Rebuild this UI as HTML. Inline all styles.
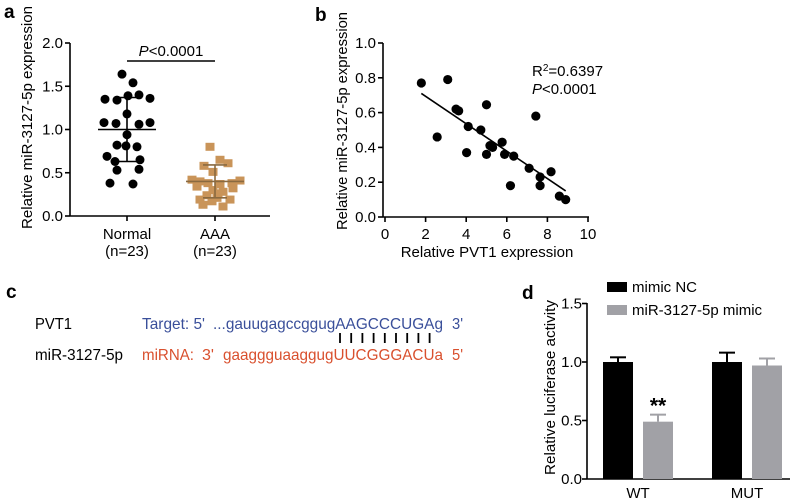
<!DOCTYPE html>
<html><head><meta charset="utf-8"><style>
body{margin:0;background:#fff}
svg{display:block;font-family:"Liberation Sans",Arial,sans-serif}
</style></head><body>
<svg id="s" width="800" height="503" viewBox="0 0 800 503">
<text x="4" y="18" font-size="19" font-weight="bold">a</text>
<text x="315" y="21" font-size="19" font-weight="bold">b</text>
<text x="6" y="298" font-size="19" font-weight="bold">c</text>
<text x="522" y="299" font-size="19" font-weight="bold">d</text>
<g id="pa"></g>
<g id="pb"></g>
<g id="pd"></g>
<g font-size="16">
<text x="35" y="329" textLength="37" lengthAdjust="spacingAndGlyphs">PVT1</text>
<text x="35" y="360" textLength="88" lengthAdjust="spacingAndGlyphs">miR-3127-5p</text>
<g fill="#3a4f9a">
<text x="142" y="329" textLength="63" lengthAdjust="spacingAndGlyphs">Target: 5'</text>
<text x="213" y="329" textLength="230" lengthAdjust="spacingAndGlyphs">...gauugagccggugAAGCCCUGAg</text>
<text x="452" y="329" textLength="11" lengthAdjust="spacingAndGlyphs">3'</text>
</g>
<g fill="#d9502e">
<text x="142" y="360" textLength="52" lengthAdjust="spacingAndGlyphs">miRNA:</text>
<text x="202" y="360" textLength="12" lengthAdjust="spacingAndGlyphs">3'</text>
<text x="223" y="360" textLength="220" lengthAdjust="spacingAndGlyphs">gaaggguaaggugUUCGGGACUa</text>
<text x="452" y="360" textLength="11" lengthAdjust="spacingAndGlyphs">5'</text>
</g>
<g id="pairs" stroke="#000" stroke-width="1.8"></g>
</g>
</svg>
<script>
// Panel a data
const aNormal=[1.64,1.54,1.35,1.34,1.39,1.40,1.36,1.18,1.08,1.07,1.06,1.08,0.94,0.81,0.82,0.80,0.69,0.63,0.65,0.53,0.54,0.38,0.37];
const aNormalJitter=[-5,6,-22,-10,1,12,23,0,-23,-11,12,23,0,-1,-10,10,-20,-12,13,-10,12,-17,6];
const aAAA=[0.80,0.65,0.61,0.58,0.51,0.42,0.40,0.41,0.38,0.37,0.38,0.34,0.30,0.28,0.24,0.26,0.19,0.19,0.17,0.11,0.13,0.21,0.32];
const aAAAJitter=[-5,5,13,-11,-2,-23,-15,25,-7,5,17,-18,-2,8,-8,3,-15,15,-3,8,-12,2,18];
const aTicks=[0,0.5,1.0,1.5,2.0];
const aCats=["Normal","AAA"];
const aMean=[1.0,0.40];const aSD=[0.37,0.19];
// Panel b data
const bX=[1.79,3.09,2.57,3.5,3.63,4.1,4.02,4.72,5.0,5.0,5.17,5.3,5.77,5.89,6.34,6.18,7.43,7.1,7.64,7.64,8.18,8.59,8.9];
const bY=[0.77,0.79,0.46,0.62,0.61,0.52,0.37,0.50,0.645,0.36,0.41,0.40,0.43,0.36,0.35,0.18,0.58,0.28,0.23,0.18,0.26,0.12,0.10];
const bFit=[[1.79,0.71],[8.9,0.15]];
const bXTicks=[0,2,4,6,8,10];const bYTicks=[0,0.2,0.4,0.6,0.8,1.0];
// Panel d data
const dGroups=["WT","MUT"];
const dNC=[1.0,1.0];const dNCErr=[0.04,0.08];
const dMimic=[0.49,0.97];const dMimicErr=[0.06,0.06];
const dTicks=[0,0.5,1.0,1.5];

const NS="http://www.w3.org/2000/svg";
const FS=15;
function mk(p,t,a,txt){const e=document.createElementNS(NS,t);for(const k in a)e.setAttribute(k,a[k]);if(txt!==undefined)e.textContent=txt;p.appendChild(e);return e;}
const S=1.6;
// Panel a
const pa=document.getElementById('pa');
const ay=v=>216-v*86.5;const ax=i=>127+i*88;
mk(pa,'line',{x1:70,y1:43,x2:70,y2:216,stroke:'#000','stroke-width':S});
mk(pa,'line',{x1:70,y1:216,x2:270,y2:216,stroke:'#000','stroke-width':S});
aTicks.forEach(t=>{mk(pa,'line',{x1:65,y1:ay(t),x2:70,y2:ay(t),stroke:'#000','stroke-width':S});
const l=mk(pa,'text',{x:63,y:ay(t)+5,'font-size':FS,'text-anchor':'end'},t.toFixed(1));

});
aCats.forEach((c,i)=>{mk(pa,'line',{x1:ax(i),y1:216,x2:ax(i),y2:221,stroke:'#000','stroke-width':S});
const l=mk(pa,'text',{x:ax(i),y:239,'font-size':FS,'text-anchor':'middle'},c);


mk(pa,'text',{x:ax(i),y:256,'font-size':FS,'text-anchor':'middle'},'(n=23)');});
const at=mk(pa,'text',{transform:'translate(32,229) rotate(-90)','font-size':FS,textLength:223,lengthAdjust:'spacingAndGlyphs'},'Relative miR-3127-5p expression');


aNormal.forEach((v,i)=>{const c=mk(pa,'circle',{cx:ax(0)+aNormalJitter[i],cy:ay(v),r:4.5,fill:'#000'});

});
aAAA.forEach((v,i)=>{const r=mk(pa,'rect',{x:ax(1)+aAAAJitter[i]-4.5,y:ay(v)-4,width:9,height:8,fill:'#c99459'});

});
[0,1].forEach(i=>{const col=i?'#8a6a40':'#000';
mk(pa,'line',{x1:ax(i)-29,y1:ay(aMean[i]),x2:ax(i)+29,y2:ay(aMean[i]),stroke:col,'stroke-width':S});
mk(pa,'line',{x1:ax(i),y1:ay(aMean[i]-aSD[i]),x2:ax(i),y2:ay(aMean[i]+aSD[i]),stroke:col,'stroke-width':S});
[1,-1].forEach(s=>mk(pa,'line',{x1:ax(i)-12,y1:ay(aMean[i]+s*aSD[i]),x2:ax(i)+12,y2:ay(aMean[i]+s*aSD[i]),stroke:col,'stroke-width':S}));});
mk(pa,'line',{x1:ax(0),y1:61,x2:ax(1),y2:61,stroke:'#000','stroke-width':S});
const pt=mk(pa,'text',{x:171,y:56,'font-size':FS,'text-anchor':'middle'});
pt.innerHTML='<tspan font-style="italic">P</tspan>&lt;0.0001';
// Panel b
const pb=document.getElementById('pb');
const bx=v=>385+v*20.3;const by=v=>217-v*174;
mk(pb,'line',{x1:383,y1:43,x2:383,y2:217,stroke:'#000','stroke-width':S});
mk(pb,'line',{x1:383,y1:217,x2:589,y2:217,stroke:'#000','stroke-width':S});
bYTicks.forEach(t=>{mk(pb,'line',{x1:378,y1:by(t),x2:383,y2:by(t),stroke:'#000','stroke-width':S});
const l=mk(pb,'text',{x:376,y:by(t)+5,'font-size':FS,'text-anchor':'end'},t.toFixed(1));

});
bXTicks.forEach(t=>{mk(pb,'line',{x1:bx(t),y1:217,x2:bx(t),y2:222,stroke:'#000','stroke-width':S});
const l=mk(pb,'text',{x:bx(t),y:239,'font-size':FS,'text-anchor':'middle'},t);

});
const bt=mk(pb,'text',{x:487,y:257,'font-size':FS,'text-anchor':'middle'},'Relative PVT1 expression');


const bt2=mk(pb,'text',{transform:'translate(347,230) rotate(-90)','font-size':FS,textLength:218,lengthAdjust:'spacingAndGlyphs'},'Relative miR-3127-5p expression');


const fl=mk(pb,'line',{x1:bx(bFit[0][0]),y1:by(bFit[0][1]),x2:bx(bFit[1][0]),y2:by(bFit[1][1]),stroke:'#000','stroke-width':1.6});


bX.forEach((x,i)=>{const c=mk(pb,'circle',{cx:bx(x),cy:by(bY[i]),r:4.6,fill:'#000'});

});
const r2=mk(pb,'text',{x:532,y:76,'font-size':FS});r2.innerHTML='R<tspan font-size="10" dy="-5">2</tspan><tspan dy="5">=0.6397</tspan>';
const pp=mk(pb,'text',{x:532,y:94,'font-size':FS});pp.innerHTML='<tspan font-style="italic">P</tspan>&lt;0.0001';
// Panel c pairs
const pg=document.getElementById('pairs');
for(let i=0;i<9;i++){mk(pg,'line',{x1:340+i*11.2,y1:333,x2:340+i*11.2,y2:343});}
// Panel d
const pd=document.getElementById('pd');
const dy=v=>479-v*117;const gx=[638,747];const bw=30;
mk(pd,'line',{x1:587,y1:303,x2:587,y2:479,stroke:'#000','stroke-width':S});
mk(pd,'line',{x1:587,y1:479,x2:790,y2:479,stroke:'#000','stroke-width':S});
dTicks.forEach(t=>{mk(pd,'line',{x1:582,y1:dy(t),x2:587,y2:dy(t),stroke:'#000','stroke-width':S});
const l=mk(pd,'text',{x:582,y:dy(t)+5,'font-size':FS,'text-anchor':'end'},t.toFixed(1));

});
dGroups.forEach((g,i)=>{const l=mk(pd,'text',{x:gx[i],y:498,'font-size':FS,'text-anchor':'middle'},g);


[[dNC,dNCErr,-20,'#000'],[dMimic,dMimicErr,20,'#a1a1a6']].forEach(([v,e,o,col])=>{
const cx=gx[i]+o;
mk(pd,'line',{x1:cx,y1:dy(v[i]),x2:cx,y2:dy(v[i]+e[i]),stroke:col,'stroke-width':2});
mk(pd,'line',{x1:cx-8,y1:dy(v[i]+e[i]),x2:cx+8,y2:dy(v[i]+e[i]),stroke:col,'stroke-width':2});
const b=mk(pd,'rect',{x:cx-bw/2,y:dy(v[i]),width:bw,height:dy(0)-dy(v[i]),fill:col});

});});
mk(pd,'text',{x:gx[0]+20,y:dy(dMimic[0]+dMimicErr[0])-2,'font-size':21,'font-weight':'bold','text-anchor':'middle'},'**');
const dt=mk(pd,'text',{transform:'translate(555,475) rotate(-90)','font-size':FS,textLength:175,lengthAdjust:'spacingAndGlyphs'},'Relative luciferase activity');


[['mimic NC','#000',287],['miR-3127-5p mimic','#a1a1a6',310]].forEach(([n,c,y])=>{
const r=mk(pd,'rect',{x:607,y:y-5,width:20,height:10,fill:c});


const t=mk(pd,'text',{x:632,y:y+5,'font-size':FS},n);

});
</script>
</body></html>
